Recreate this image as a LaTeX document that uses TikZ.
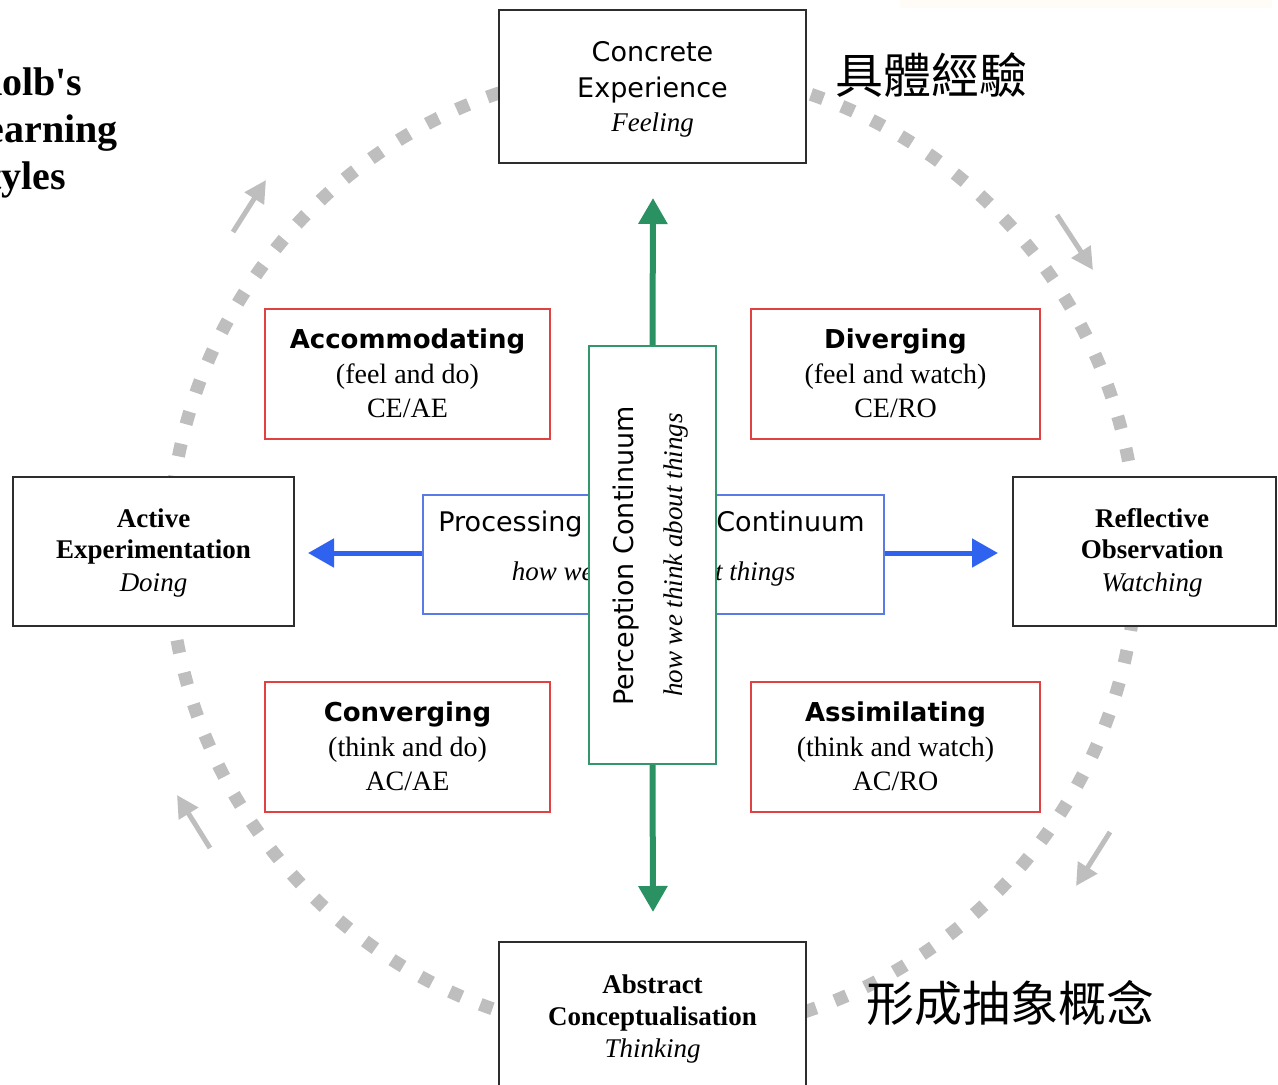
\documentclass[tikz,border=0pt]{standalone}
\usepackage{fontspec}
\setmainfont{Liberation Serif}
\setsansfont{DejaVu Sans}
\newfontfamily\kbcjk{Noto Sans CJK TC}
\usetikzlibrary{arrows.meta}
\definecolor{dashgray}{RGB}{190,190,190}
\definecolor{boxred}{RGB}{222,66,66}
\definecolor{boxblue}{RGB}{92,122,230}
\definecolor{arrowblue}{RGB}{48,98,240}
\definecolor{boxgreen}{RGB}{52,150,108}
\definecolor{arrowgreen}{RGB}{42,146,98}
\definecolor{boxblack}{RGB}{45,45,45}
\definecolor{faintbar}{RGB}{255,252,248}
\newcommand\kbSans{\sffamily\fontsize{27}{32}\selectfont}
\newcommand\kbSansB{\sffamily\bfseries\fontsize{26}{31}\selectfont}
\newcommand\kbSerif{\rmfamily\fontsize{28}{33}\selectfont}
\newcommand\kbSerifB{\rmfamily\bfseries\fontsize{27}{32}\selectfont}
\newcommand\kbIt{\rmfamily\itshape\fontsize{27}{32}\selectfont}
\newcommand\kbTitle{\rmfamily\bfseries\fontsize{40}{47}\selectfont}
\begin{document}
\begin{tikzpicture}[x=1pt,y=-1pt,
  txt/.style={inner sep=0pt, anchor=base},
  blackbox/.style={draw=boxblack, line width=2pt, fill=white, inner sep=0pt},
  redbox/.style={draw=boxred, line width=2pt, fill=white, inner sep=0pt,
    minimum width=285, minimum height=130},
  cyclearrow/.style={draw=dashgray, line width=5pt,
    -{Triangle[length=22pt,width=22pt]}},
  greenarrow/.style={draw=arrowgreen, line width=6pt,
    -{Triangle[length=26pt,width=28pt]}},
  bluearrow/.style={draw=arrowblue, line width=5pt,
    -{Triangle[length=26pt,width=28pt]}},
  titletxt/.style={inner sep=0pt, anchor=base west, font=\kbTitle}]
\useasboundingbox (0,0) rectangle (1278,1085);

% faint bar at the top right
\fill[faintbar] (900,0) rectangle (1272,8);

% dashed learning cycle
\draw[dashgray, line width=13pt, dash pattern=on 13pt off 20pt] (653,552) circle[radius=484];

% small cycle direction arrows
\coordinate (tlA) at (233,232); \coordinate (tlB) at (266,180);
\coordinate (trA) at (1057,215); \coordinate (trB) at (1093,270);
\coordinate (brA) at (1110,832); \coordinate (brB) at (1076,886);
\coordinate (blA) at (210,848); \coordinate (blB) at (177,795);
\draw[cyclearrow] (tlA) -- (tlB);
\draw[cyclearrow] (trA) -- (trB);
\draw[cyclearrow] (brA) -- (brB);
\draw[cyclearrow] (blA) -- (blB);

% four stage boxes
\node[blackbox, minimum width=307, minimum height=153] (ce) at (652.5,86.5) {};
\node[txt, font=\kbSans] (ce1) at (652.5,61) {Concrete};
\node[txt, font=\kbSans] (ce2) at (652.5,97) {Experience};
\node[txt, font=\kbIt] (ce3) at (652.5,131) {Feeling};

\node[blackbox, minimum width=281, minimum height=149] (ae) at (153.5,551.5) {};
\node[txt, font=\kbSerifB] (ae1) at (153.5,527) {Active};
\node[txt, font=\kbSerifB] (ae2) at (153.5,558) {Experimentation};
\node[txt, font=\kbIt] (ae3) at (153.5,591) {Doing};

\node[blackbox, minimum width=263, minimum height=149] (ro) at (1144.5,551.5) {};
\node[txt, font=\kbSerifB] (ro1) at (1152,527) {Reflective};
\node[txt, font=\kbSerifB] (ro2) at (1152,558) {Observation};
\node[txt, font=\kbIt] (ro3) at (1152,591) {Watching};

\node[blackbox, minimum width=307, minimum height=160] (ac) at (652.5,1022) {};
\node[txt, font=\kbSerifB] (ac1) at (652.5,993) {Abstract};
\node[txt, font=\kbSerifB] (ac2) at (652.5,1025) {Conceptualisation};
\node[txt, font=\kbIt] (ac3) at (652.5,1057) {Thinking};

% four learning styles
\node[redbox] (acc) at (407.5,374) {};
\node[txt, font=\kbSansB] (acc1) at (407.5,348) {Accommodating};
\node[txt, font=\kbSerif] (acc2) at (407.5,383) {(feel and do)};
\node[txt, font=\kbSerif] (acc3) at (407.5,417) {CE/AE};

\node[redbox, minimum width=289] (div) at (895.5,374) {};
\node[txt, font=\kbSansB] (div1) at (895.5,348) {Diverging};
\node[txt, font=\kbSerif] (div2) at (895.5,383) {(feel and watch)};
\node[txt, font=\kbSerif] (div3) at (895.5,417) {CE/RO};

\node[redbox] (con) at (407.5,747) {};
\node[txt, font=\kbSansB] (con1) at (407.5,721) {Converging};
\node[txt, font=\kbSerif] (con2) at (407.5,756) {(think and do)};
\node[txt, font=\kbSerif] (con3) at (407.5,790) {AC/AE};

\node[redbox, minimum width=289] (ass) at (895.5,747) {};
\node[txt, font=\kbSansB] (ass1) at (895.5,721) {Assimilating};
\node[txt, font=\kbSerif] (ass2) at (895.5,756) {(think and watch)};
\node[txt, font=\kbSerif] (ass3) at (895.5,790) {AC/RO};

% processing continuum
\node[draw=boxblue, line width=2pt, fill=white, inner sep=0pt,
  minimum width=461, minimum height=119] (proc) at (653.5,554.5) {};
\node[txt, font=\kbSans] (proc1) at (510.5,531) {Processing};
\node[txt, font=\kbSans] (proc2) at (790.5,531) {Continuum};
\node[txt, font=\kbIt] (proc3) at (653.5,580) {how we think about things};
\coordinate (aeTip) at (308,553);
\coordinate (roTip) at (998,553);
\draw[bluearrow] (proc.west |- aeTip) -- (aeTip);
\draw[bluearrow] (proc.east |- roTip) -- (roTip);

% perception continuum
\node[draw=boxgreen, line width=2pt, fill=white, inner sep=0pt,
  minimum width=127, minimum height=418] (perc) at (652.5,555) {};
\node[txt, font=\kbSans, rotate=90] (perc1) at (633,556) {Perception Continuum};
\node[txt, font=\kbIt, rotate=90] (perc2) at (682,555) {how we think about things};
\coordinate (ceTip) at (653,198);
\coordinate (acTip) at (653,912);
\draw[greenarrow] (perc.north) -- (ceTip);
\draw[greenarrow] (perc.south) -- (acTip);

% Chinese labels
\node[inner sep=0pt, font=\kbcjk\fontsize{48}{56}\selectfont] (cezh) at (931,75) {具體經驗};
\node[inner sep=0pt, font=\kbcjk\fontsize{48}{56}\selectfont] (aczh) at (1010,1003) {形成抽象概念};

% title (cut off at the left edge, as in the reference)
\node[titletxt] (t1) at (-29,95) {Kolb\textquotesingle s};
\node[titletxt] (t2) at (-40,142) {Learning};
\node[titletxt] (t3) at (-34,189) {Styles};
\end{tikzpicture}
\end{document}
